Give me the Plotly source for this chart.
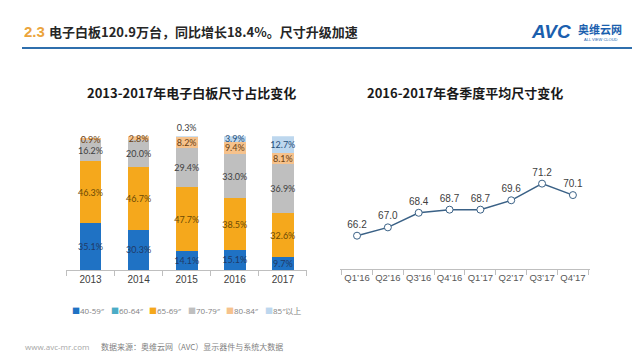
import plotly.graph_objects as go

# ---------------- data ----------------
years = ["2013", "2014", "2015", "2016", "2017"]
size_names = ['40-59"', '60-64"', '65-69"', '70-79"', '80-84"', '85"以上']
share_40_59 = [35.1, 30.3, 14.1, 15.1, 9.7]
share_60_64 = [0, 0, 0, 0, 0]
share_65_69 = [46.3, 46.7, 47.7, 38.5, 32.6]
share_70_79 = [16.2, 20.0, 29.4, 33.0, 36.9]
share_80_84 = [0.9, 2.8, 8.2, 9.4, 8.1]
share_85_up = [0, 0, 0.3, 3.9, 12.7]

quarters = ["Q1’16", "Q2’16", "Q3’16", "Q4’16", "Q1’17", "Q2’17", "Q3’17", "Q4’17"]
avg_size = [66.2, 67.0, 68.4, 68.7, 68.7, 69.6, 71.2, 70.1]

# ---------------- styles ----------------
bar_colors = ["#1f72c4", "#4bacc6", "#f5a81c", "#bfbfbf", "#f6c28c", "#bdd7ee"]
label_colors = ["#1f3a66", "#1f3a66", "#6b4a06", "#404040", "#6b3f12", "#1f4e79"]
CJK = "Noto Sans CJK SC"

series = [share_40_59, share_60_64, share_65_69, share_70_79, share_80_84, share_85_up]

fig = go.Figure()
for name, vals, col, lcol in zip(size_names, series, bar_colors, label_colors):
    texts = [f"{v:.1f}%" if v > 0 else "" for v in vals]
    positions = ["outside" if (0 < v < 0.5) else "inside" for v in vals]
    fig.add_trace(go.Bar(
        x=years, y=vals, name=name, marker=dict(color=col, line=dict(width=0)),
        text=texts, textposition=positions, insidetextanchor="middle", textangle=0,
        insidetextfont=dict(family="Lato", size=9, color=lcol),
        outsidetextfont=dict(family="Lato", size=9, color="#404040"),
        cliponaxis=False, xaxis="x", yaxis="y", showlegend=False,
    ))

fig.add_trace(go.Scatter(
    x=quarters, y=avg_size, mode="lines+markers+text",
    text=[f"{v:.1f}" for v in avg_size], textposition="top center",
    textfont=dict(family="Liberation Sans", size=10, color="#404040"),
    line=dict(color="#3a6186", width=1.5),
    marker=dict(size=7, color="white", line=dict(color="#3a6186", width=1)),
    xaxis="x2", yaxis="y2", showlegend=False, cliponaxis=False,
))

axis_common = dict(showgrid=False, zeroline=False, showline=True, linecolor="#bfbfbf",
                   ticks="outside", tickson="boundaries", ticklen=5, tickcolor="#bfbfbf",
                   type="category", tickangle=0)

fig.update_layout(
    width=640, height=360, paper_bgcolor="white", plot_bgcolor="white",
    margin=dict(l=0, r=0, t=0, b=0),
    barmode="stack", bargap=0.55,
    uniformtext=dict(minsize=9, mode="show"),
    font=dict(family=CJK, color="#404040"),
    xaxis=dict(domain=[0.0914, 0.467], anchor="y",
               tickfont=dict(family="Liberation Sans", size=10, color="#404040"), **axis_common),
    yaxis=dict(domain=[0.272, 0.644], range=[0, 100], visible=False),
    xaxis2=dict(domain=[0.519, 0.909], anchor="y2",
                tickfont=dict(family="Liberation Sans", size=9.5, color="#595959"), **axis_common),
    yaxis2=dict(domain=[0.275, 0.622], range=[63, 75], visible=False, anchor="x2"),
)

def px_x(x):
    return x / 640

def px_y(y):
    return 1 - y / 360

annotations = [
    dict(x=px_x(14), y=px_y(24), text="<b>2.3</b>", xanchor="left", yanchor="middle",
         font=dict(family="Liberation Sans", size=15, color="#eba43c")),
    dict(x=px_x(39), y=px_y(24), text="<b>电子白板120.9万台，同比增长18.4%。尺寸升级加速</b>",
         xanchor="left", yanchor="middle", font=dict(family=CJK, size=13, color="#262626")),
    dict(x=px_x(565), y=px_y(24), text="<b><i>AVC</i></b>", xanchor="right", yanchor="middle",
         font=dict(family="Liberation Sans", size=19, color="#1b5fae")),
    dict(x=px_x(568), y=px_y(21), text="<b>奥维云网</b>", xanchor="left", yanchor="middle",
         font=dict(family=CJK, size=11, color="#1b5fae")),
    dict(x=px_x(593), y=px_y(31), text="ALL VIEW CLOUD", xanchor="center", yanchor="middle",
         font=dict(family="Liberation Sans", size=4, color="#1b5fae")),
    dict(x=px_x(183), y=px_y(84), text="<b>2013-2017年电子白板尺寸占比变化</b>",
         xanchor="center", yanchor="middle", font=dict(family=CJK, size=13, color="#1a1a1a")),
    dict(x=px_x(457), y=px_y(84), text="<b>2016-2017年各季度平均尺寸变化</b>",
         xanchor="center", yanchor="middle", font=dict(family=CJK, size=13, color="#1a1a1a")),
    dict(x=px_x(15), y=px_y(338), text="www.avc-mr.com", xanchor="left", yanchor="middle",
         font=dict(family="Open Sans", size=8, color="#a6a6a6")),
    dict(x=px_x(91), y=px_y(338), text="数据来源：奥维云网（AVC）显示器件与系统大数据",
         xanchor="left", yanchor="middle", font=dict(family=CJK, size=8, color="#7f7f7f")),
]

# manual compact legend built from the series names/colours
lx = 62
for name, col in zip(size_names, bar_colors):
    txt = f"<span style='color:{col}'>■</span>{name.replace(chr(34), '″')}"
    annotations.append(dict(x=px_x(lx), y=px_y(302), text=txt, xanchor="left", yanchor="middle",
                            font=dict(family="Open Sans, " + CJK, size=8, color="#7f7f7f")))
    lx += 38.5

fig.update_layout(annotations=[dict(a, xref="paper", yref="paper", showarrow=False) for a in annotations])

fig.add_shape(type="line", xref="paper", yref="paper", x0=px_x(14), x1=px_x(627),
              y0=px_y(40), y1=px_y(40), line=dict(color="#2f6fad", width=2))

fig.write_html("out.html")
